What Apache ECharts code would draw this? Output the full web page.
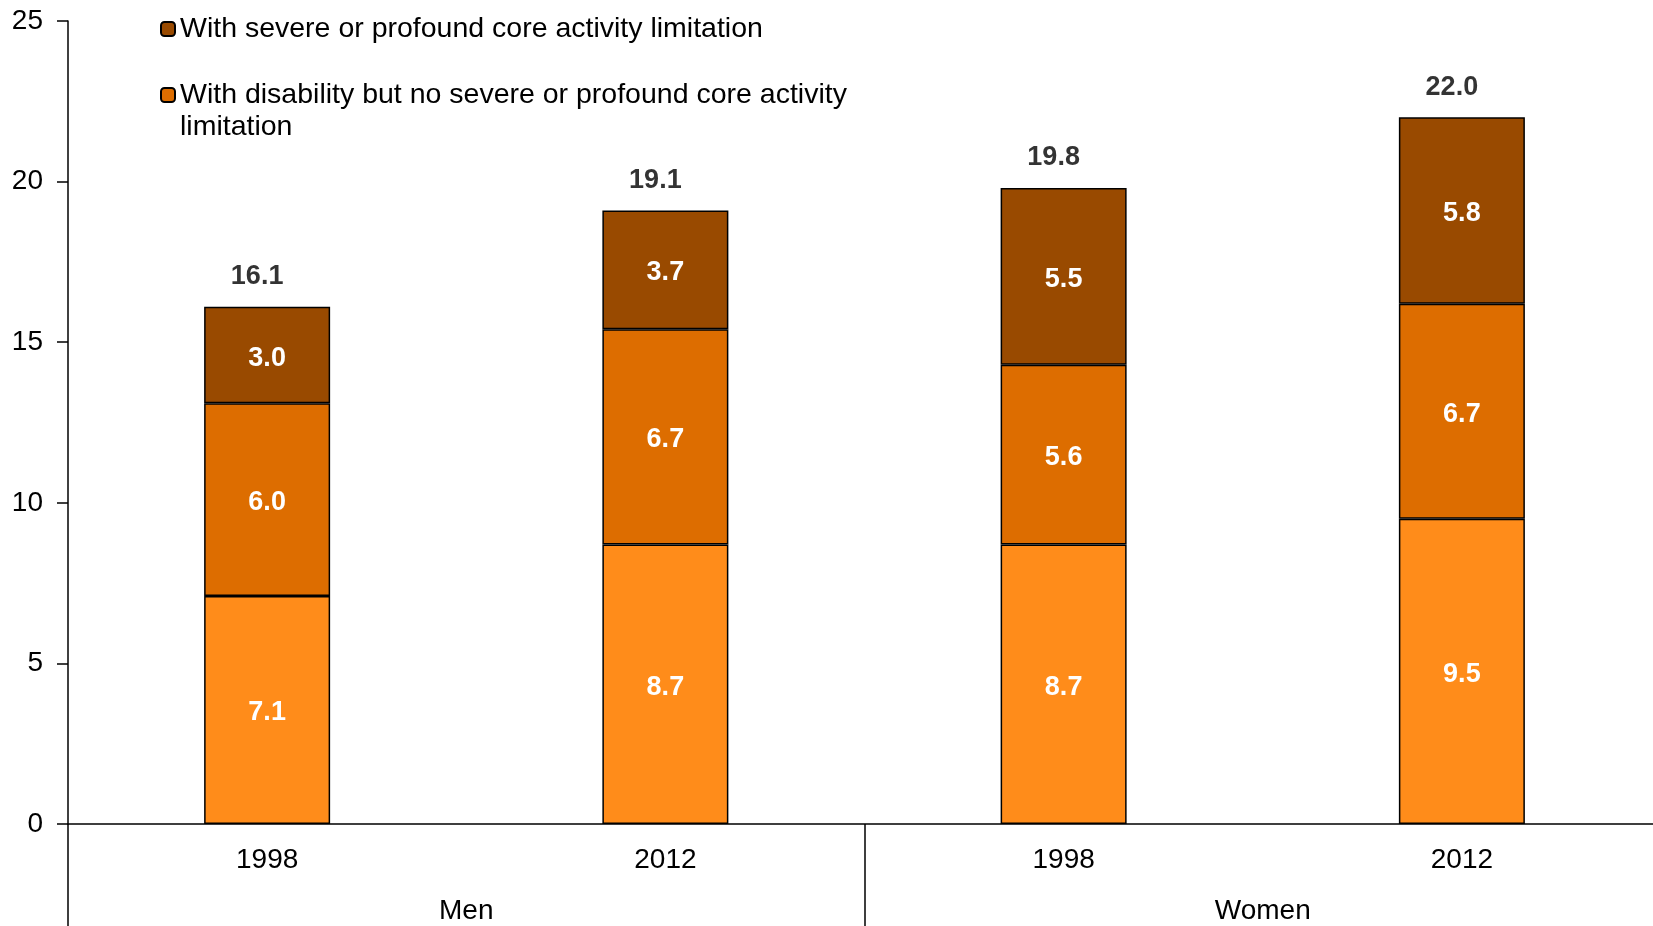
<!DOCTYPE html>
<html>
<head>
<meta charset="utf-8">
<script src="https://cdn.jsdelivr.net/npm/echarts@6/dist/echarts.min.js"></script>
<style>
  html, body { margin: 0; padding: 0; background: #fff; }
  #chart { width: 1653px; height: 926px; }
</style>
</head>
<body>
<div id="chart"></div>
<script>
// Categories: survey year within each sex group
const years = ['1998', '2012', '1998', '2012'];
const groups = ['Men', 'Women'];

// Stacked segments (per cent), bottom to top
const noSevereLimitationBase = [7.1, 8.7, 8.7, 9.5];
const disabilityNoSevere = [6.0, 6.7, 5.6, 6.7];
const severeProfound = [3.0, 3.7, 5.5, 5.8];
const totals = [16.1, 19.1, 19.8, 22.0];

const yTicks = { min: 0, max: 25, interval: 5 };

const NAME_SEVERE = 'With severe or profound core activity limitation';
const NAME_DISABILITY = 'With disability but no severe or profound core activity limitation';
const NAME_BASE = 'Other';

const FONT = '"Liberation Sans", Arial, sans-serif';
const border = { borderColor: '#000', borderWidth: 1.5 };
const innerLabel = {
  show: true, position: 'inside', color: '#fff', fontWeight: 'bold',
  fontSize: 27, fontFamily: FONT, offset: [0, 3],
  formatter: p => p.value.toFixed(1)
};

const chart = echarts.init(document.getElementById('chart'));
chart.setOption({
  animation: false,
  backgroundColor: '#fff',
  textStyle: { fontFamily: FONT },
  // plot area runs slightly past the right edge of the canvas
  grid: { left: 68, right: -8, top: 21, bottom: 102, outerBoundsMode: 'none', containLabel: false },
  legend: [
    {
      data: [NAME_SEVERE], orient: 'vertical', left: 160, top: 13, padding: 0,
      itemWidth: 14, itemHeight: 14,
      textStyle: { fontSize: 28.5, color: '#000', lineHeight: 32, fontFamily: FONT }
    },
    {
      // blank leading line keeps the first text line level with the swatch
      data: [NAME_DISABILITY], orient: 'vertical', left: 160, top: 47, padding: 0,
      itemWidth: 14, itemHeight: 14,
      formatter: () => ' \nWith disability but no severe or profound core activity\nlimitation',
      textStyle: { fontSize: 28.5, color: '#000', lineHeight: 32, fontFamily: FONT }
    }
  ],
  xAxis: [
    {
      type: 'category', data: years, position: 'bottom',
      axisLine: { show: true, lineStyle: { color: '#000', width: 1.5 } },
      axisTick: { show: false },
      axisLabel: { color: '#000', fontSize: 28, margin: 22, fontFamily: FONT }
    },
    {
      type: 'category', data: groups, position: 'bottom',
      axisLine: { show: false },
      axisTick: { show: true, length: 102, interval: 0, lineStyle: { color: '#000', width: 1.5 } },
      axisLabel: { color: '#000', fontSize: 28, margin: 73, fontFamily: FONT }
    }
  ],
  yAxis: {
    type: 'value', min: yTicks.min, max: yTicks.max, interval: yTicks.interval,
    axisLine: { show: true, lineStyle: { color: '#000', width: 1.5 } },
    axisTick: { show: true, length: 11, lineStyle: { color: '#000', width: 1.5 } },
    splitLine: { show: false },
    axisLabel: { color: '#000', fontSize: 28, margin: 25, fontFamily: FONT }
  },
  series: [
    {
      name: NAME_BASE, type: 'bar', stack: 'total', barWidth: 126,
      data: noSevereLimitationBase,
      itemStyle: Object.assign({ color: '#FF8C1A' }, border),
      label: innerLabel
    },
    {
      name: NAME_DISABILITY, type: 'bar', stack: 'total',
      data: disabilityNoSevere,
      itemStyle: Object.assign({ color: '#DD6D00' }, border),
      label: innerLabel
    },
    {
      name: NAME_SEVERE, type: 'bar', stack: 'total',
      data: severeProfound,
      itemStyle: Object.assign({ color: '#994A00' }, border),
      label: innerLabel
    },
    {
      name: 'Total', type: 'scatter', data: totals, symbolSize: 1,
      itemStyle: { color: 'rgba(0,0,0,0)' },
      label: {
        show: true, position: 'top', distance: 16, color: '#000',
        fontWeight: 'bold', fontSize: 27, fontFamily: FONT, offset: [-10, 0],
        formatter: p => p.value.toFixed(1)
      }
    }
  ]
});
</script>
</body>
</html>
